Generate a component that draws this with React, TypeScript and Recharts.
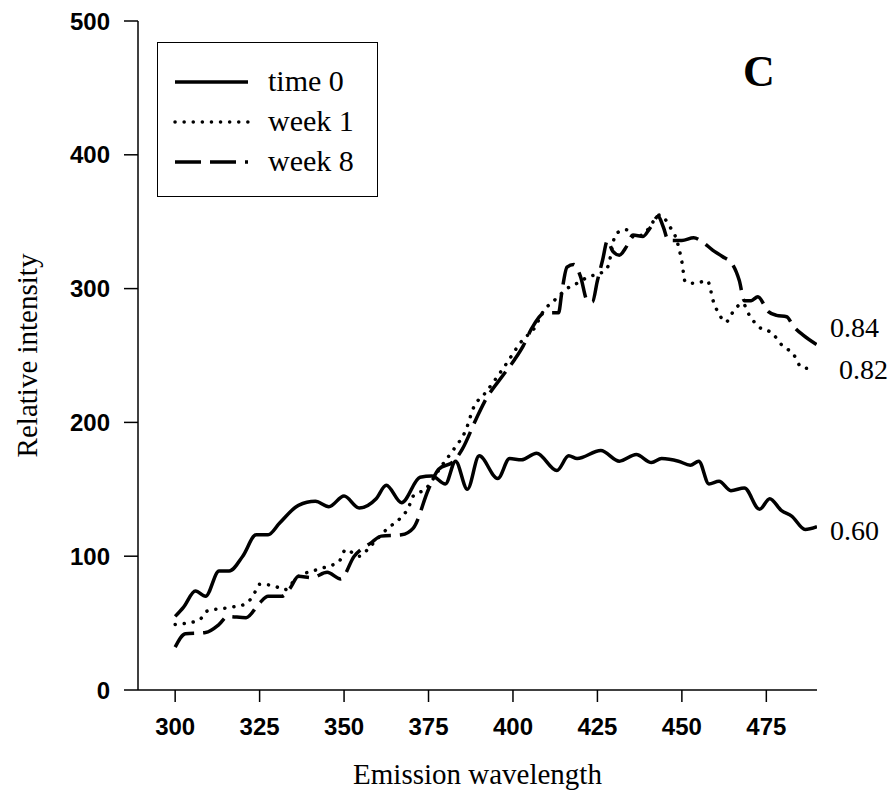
import { LineChart, Line, XAxis, YAxis, Label } from 'recharts';

// emission spectra (wavelength nm -> relative intensity)
const time0Wavelength = [300, 302.5, 306, 309, 313, 316, 320, 324, 327.5, 331, 336.5, 341.5, 345.5, 350, 354.5, 359.5, 362.5, 367, 372.5, 376, 380, 383, 386.5, 390, 395.5, 399, 402.5, 407, 413, 416.5, 419, 426, 431.5, 436.5, 441, 444, 449, 452.5, 455, 458, 461, 464.5, 468.5, 473, 476, 479.5, 482.5, 486.5, 490];
const time0Intensity = [55, 62, 74, 70, 89, 89, 100, 116, 116, 125, 138, 141, 137, 145, 136, 143, 153, 140, 159, 160, 154, 171, 150, 175, 158, 173, 172, 177, 164, 175, 173, 179, 171, 176, 170, 173, 171, 168, 171, 154, 156, 149, 151, 135, 143, 134, 130, 120, 122];

const week1Wavelength = [300, 307, 309.5, 317, 320.5, 323, 325, 329, 332.5, 336, 342, 348.5, 350.5, 354.5, 358, 363, 366.5, 369, 370.5, 374, 379, 382.5, 386, 388.5, 391.5, 397, 403, 406.5, 408.5, 413, 416, 419, 422.5, 425.5, 428, 430.5, 433.5, 436, 439.5, 443.5, 446.5, 448.5, 450, 451, 454, 457.5, 459.5, 461, 463, 465.5, 468, 470, 472.5, 477, 479.5, 483, 485.5, 489];
const week1Intensity = [49, 52, 59, 62, 64, 70, 79, 78, 75, 84, 90, 96, 105, 100, 108, 121, 128, 136, 145, 150, 168, 180, 194, 212, 221, 240, 262, 271, 281, 293, 300, 304, 309, 311, 316, 341, 344, 338, 343, 355, 346, 336, 320, 305, 304, 306, 289, 281, 275, 284, 289, 280, 272, 266, 258, 251, 241, 240];

const week8Wavelength = [300, 303, 309, 313, 315.5, 321, 325, 327.5, 331.5, 334, 336.5, 340.5, 345, 349, 353, 358, 361, 367, 370.5, 375, 378, 382.5, 385, 389, 391.5, 397, 400.5, 403, 405.5, 409.5, 413.5, 414.5, 416, 418, 420, 422, 423.5, 425, 426.5, 428, 429.5, 431.5, 433.5, 435.5, 438.5, 440.5, 443, 444.5, 446, 450, 453.5, 456, 459, 462, 465, 467, 468.5, 470.5, 472.5, 475.5, 478, 481, 483, 486, 490];
const week8Intensity = [32, 42, 43, 49, 55, 54, 65, 70, 70, 76, 85, 84, 88, 83, 100, 110, 115, 116, 121, 150, 165, 171, 180, 202, 215, 235, 247, 257, 270, 282, 282, 298, 316, 318, 309, 291, 290, 306, 321, 336, 328, 325, 331, 340, 339, 345, 354, 346, 336, 336, 338, 335, 329, 324, 318, 306, 291, 291, 294, 283, 280, 279, 272, 265, 258];

const wavelengthTicks = [300, 325, 350, 375, 400, 425, 450, 475];
const intensityTicks = [0, 100, 200, 300, 400, 500];

const seriesNames = ['time 0', 'week 1', 'week 8'];
const ratioLabels = ['0.84', '0.82', '0.60'];

const toPoints = (xs: number[], ys: number[]) => xs.map((x, i) => ({ x, y: ys[i] }));

const time0 = toPoints(time0Wavelength, time0Intensity);
const week1 = toPoints(week1Wavelength, week1Intensity);
const week8 = toPoints(week8Wavelength, week8Intensity);

const serif = '"Liberation Serif", "Times New Roman", serif';
const sans = '"Liberation Sans", Arial, sans-serif';
const tickStyle = { fontFamily: sans, fontWeight: 700, fontSize: 24, fill: '#000' };

const dotted = { strokeDasharray: '0.1 9', strokeLinecap: 'round' as const };
const dashed = { strokeDasharray: '26 9' };

const LegendBox = () => {
  const rows = [
    { name: seriesNames[0], style: {} },
    { name: seriesNames[1], style: dotted },
    { name: seriesNames[2], style: dashed },
  ];
  return (
    <div
      style={{
        position: 'absolute',
        left: 149,
        top: 34,
        width: 221,
        height: 155,
        border: '1.5px solid #000',
        boxSizing: 'border-box',
        background: '#fff',
      }}
    >
      {rows.map((r, i) => (
        <div
          key={r.name}
          style={{ position: 'absolute', left: 0, top: 20 + i * 40, height: 36, display: 'flex', alignItems: 'center' }}
        >
          <svg width={110} height={36}>
            <line x1={17} x2={90} y1={19} y2={19} stroke="#000" strokeWidth={3.5} {...r.style} />
          </svg>
          <span style={{ fontFamily: serif, fontSize: 30, lineHeight: 1 }}>{r.name}</span>
        </div>
      ))}
    </div>
  );
};

export default function App() {
  return (
    <div style={{ position: 'relative', width: 880, height: 787, background: '#fff' }}>
      <LineChart width={880} height={787} margin={{ top: 13, right: 71, bottom: 50, left: 5 }}>
        <XAxis
          dataKey="x"
          type="number"
          domain={[289, 490]}
          ticks={wavelengthTicks}
          allowDataOverflow
          height={55}
          tickSize={12}
          tickMargin={16}
          tick={tickStyle}
          stroke="#000"
          strokeWidth={1.5}
        >
          <Label
            value="Emission wavelength"
            position="bottom"
            offset={18}
            style={{ fontFamily: serif, fontSize: 29, fill: '#000' }}
          />
        </XAxis>
        <XAxis
          xAxisId="top"
          orientation="top"
          type="number"
          domain={[289, 490]}
          height={0}
          tick={false}
          tickLine={false}
          stroke="#000"
          strokeWidth={1.5}
        />
        <YAxis
          type="number"
          domain={[0, 500]}
          ticks={intensityTicks}
          width={125}
          tickSize={14}
          tickMargin={14}
          tick={tickStyle}
          stroke="#000"
          strokeWidth={1.5}
        >
          <Label
            value="Relative intensity"
            angle={-90}
            position="insideLeft"
            offset={14}
            style={{ fontFamily: serif, fontSize: 29, fill: '#000', textAnchor: 'middle' }}
          />
        </YAxis>
        <YAxis
          yAxisId="right"
          orientation="right"
          domain={[0, 500]}
          width={0}
          tick={false}
          tickLine={false}
          stroke="#000"
          strokeWidth={1.5}
        />
        <Line data={time0} dataKey="y" type="monotone" stroke="#000" strokeWidth={3.5} dot={false} activeDot={false} isAnimationActive={false} />
        <Line data={week1} dataKey="y" type="monotone" stroke="#000" strokeWidth={3.5} dot={false} activeDot={false} isAnimationActive={false} {...dotted} />
        <Line data={week8} dataKey="y" type="monotone" stroke="#000" strokeWidth={3.5} dot={false} activeDot={false} isAnimationActive={false} {...dashed} />
      </LineChart>

      <LegendBox />

      <div style={{ position: 'absolute', left: 735, top: 42, fontFamily: serif, fontWeight: 700, fontSize: 44, lineHeight: 1 }}>C</div>

      <div style={{ position: 'absolute', left: 822, top: 306, fontFamily: serif, fontSize: 28, lineHeight: 1 }}>{ratioLabels[0]}</div>
      <div style={{ position: 'absolute', left: 831, top: 348, fontFamily: serif, fontSize: 28, lineHeight: 1 }}>{ratioLabels[1]}</div>
      <div style={{ position: 'absolute', left: 822, top: 509, fontFamily: serif, fontSize: 28, lineHeight: 1 }}>{ratioLabels[2]}</div>
    </div>
  );
}
